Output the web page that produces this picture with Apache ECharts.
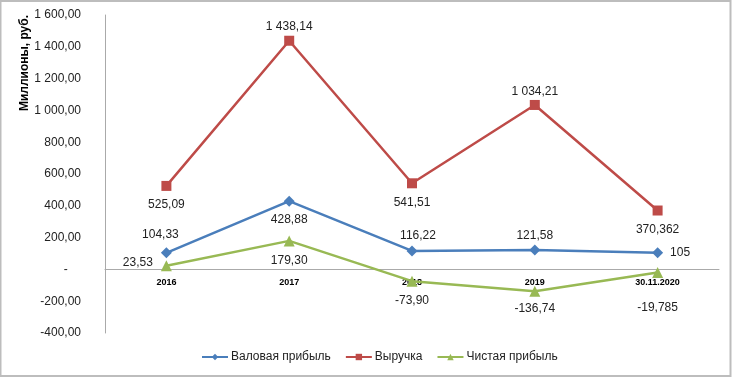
<!DOCTYPE html>
<html><head><meta charset="utf-8">
<script src="https://cdn.jsdelivr.net/npm/echarts@6/dist/echarts.min.js"></script>
<style>html,body{margin:0;padding:0;background:#fff}#c{width:733px;height:378px}</style>
</head><body><div id="c"></div>
<script>
var categories = ['2016', '2017', '2018', '2019', '30.11.2020'];
var grossProfit = [104.33, 428.88, 116.22, 121.58, 105];
var revenue = [525.09, 1438.14, 541.51, 1034.21, 370.362];
var netProfit = [23.53, 179.30, -73.90, -136.74, -19.785];
var seriesNames = ['Валовая прибыль', 'Выручка', 'Чистая прибыль'];
var yAxisTitle = 'Миллионы, руб.';
var yMin = -400, yMax = 1600, yStep = 200;

function fmtNum(v, dec) {
  var s = dec == null ? String(v) : v.toFixed(dec);
  var neg = s.charAt(0) === '-';
  if (neg) s = s.slice(1);
  var parts = s.split('.');
  var ip = parts[0].replace(/\B(?=(\d{3})+(?!\d))/g, ' ');
  return (neg ? '-' : '') + ip + (parts[1] ? ',' + parts[1] : '');
}
function labelFmt(p) { return fmtNum(p.value, p.dataIndex < 4 ? 2 : null); }

var lbl = {fontFamily: 'Liberation Sans', fontSize: 12, color: '#222'};
function mk(vals, positions, offsets) {
  return vals.map(function (v, i) {
    var o = {value: v, label: {position: positions[i]}};
    if (offsets && offsets[i]) o.label.offset = offsets[i];
    return o;
  });
}

var H = 378, gridTop = 15, gridBottom = 45;
var plotH = H - gridTop - gridBottom;
var zeroOffset = -plotH * (0 - yMin) / (yMax - yMin);

var chart = echarts.init(document.getElementById('c'));
chart.setOption({
  animation: false,
  grid: {left: 105, right: 14, top: gridTop, bottom: gridBottom},
  graphic: [
    {type: 'rect', shape: {x: 0.5, y: 1, width: 730, height: 375}, style: {fill: 'none', stroke: '#bdbdbd', lineWidth: 2}},
    {type: 'text', x: 25, y: 63, rotation: Math.PI / 2, style: {text: yAxisTitle, font: 'bold 12px "Liberation Sans"', fill: '#000', textAlign: 'center', textVerticalAlign: 'middle'}}
  ],
  legend: {
    bottom: 10, left: 196, itemWidth: 26, itemHeight: 8, itemGap: 14,
    textStyle: {fontFamily: 'Liberation Sans', fontSize: 12, color: '#222', padding: [0, 0, 0, -2]},
    data: seriesNames
  },
  xAxis: {
    type: 'category', data: categories, boundaryGap: true,
    offset: zeroOffset,
    axisLine: {onZero: false, lineStyle: {color: '#aaa', width: 1}},
    axisTick: {show: false},
    axisLabel: {fontFamily: 'Liberation Sans', fontSize: 9, fontWeight: 'bold', color: '#000', margin: 9}
  },
  yAxis: {
    type: 'value', min: yMin, max: yMax, interval: yStep,
    splitLine: {show: false},
    axisLine: {show: true, lineStyle: {color: '#aaa', width: 1}},
    axisTick: {show: false},
    axisLabel: {fontFamily: 'Liberation Sans', fontSize: 12, color: '#222', margin: 24,
      formatter: function (v) { return v === 0 ? '-    ' : fmtNum(v, 2); }}
  },
  series: [
    {name: seriesNames[0], type: 'line', symbol: 'diamond', symbolSize: 11,
     lineStyle: {color: '#4A7EBB', width: 2.5}, itemStyle: {color: '#4A7EBB'},
     label: Object.assign({show: true, formatter: labelFmt, distance: 7}, lbl),
     data: mk(grossProfit, ['top', 'bottom', 'top', 'top', 'right'], [[-6, 0], null, [6, 3], [0, 4], null])},
    {name: seriesNames[1], type: 'line', symbol: 'rect', symbolSize: 10,
     lineStyle: {color: '#BE4B48', width: 2.5}, itemStyle: {color: '#BE4B48'},
     label: Object.assign({show: true, formatter: labelFmt, distance: 8}, lbl),
     data: mk(revenue, ['bottom', 'top', 'bottom', 'top', 'bottom'], [null, [0, 5], null, [0, 6], null])},
    {name: seriesNames[2], type: 'line', symbol: 'triangle', symbolSize: 11,
     lineStyle: {color: '#98B954', width: 2.5}, itemStyle: {color: '#98B954'},
     label: Object.assign({show: true, formatter: labelFmt, distance: 8}, lbl),
     data: mk(netProfit, ['left', 'bottom', 'bottom', 'bottom', 'bottom'], [[0, -3], null, [0, 0], [0, -2], [0, 16]])}
  ]
});
</script></body></html>
